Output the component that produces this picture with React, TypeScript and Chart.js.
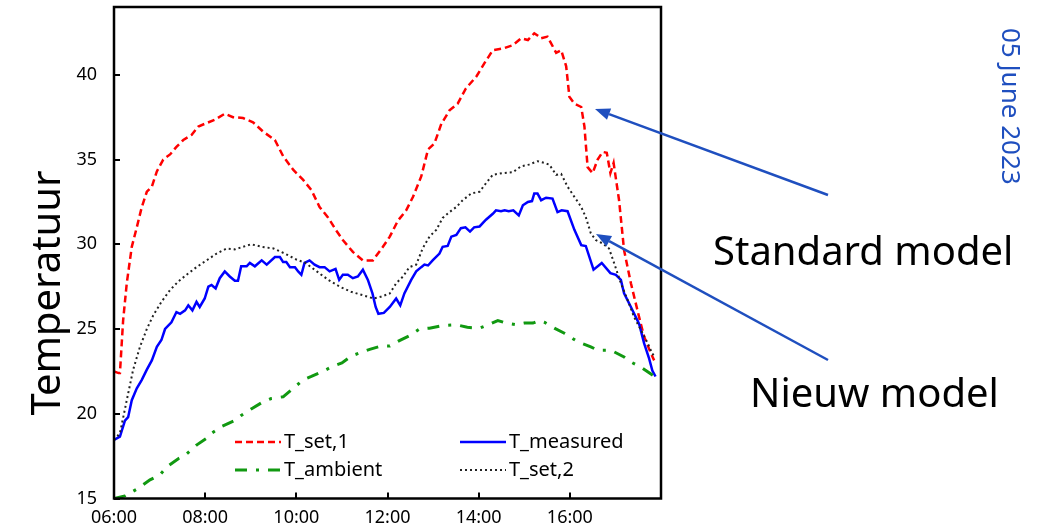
import React, { useEffect, useRef } from 'react';
import { Chart, registerables } from 'chart.js';

Chart.register(...registerables);

const FONT = '"Noto Sans", "DejaVu Sans", sans-serif';

// ---- data (hours of day, temperature) ----
const hoursSet1 = [6.0, 6.1, 6.13, 6.2, 6.28, 6.39, 6.5, 6.61, 6.72, 6.83, 6.94, 7.08, 7.23, 7.37, 7.52, 7.7, 7.85, 8.03, 8.21, 8.43, 8.61, 8.83, 9.05, 9.27, 9.53, 9.71, 9.93, 10.15, 10.33, 10.51, 10.69, 10.88, 11.02, 11.24, 11.46, 11.68, 11.9, 12.05, 12.23, 12.41, 12.56, 12.74, 12.89, 13.03, 13.18, 13.36, 13.54, 13.72, 13.95, 14.13, 14.31, 14.53, 14.75, 14.93, 15.08, 15.22, 15.3, 15.37, 15.51, 15.7, 15.81, 15.92, 15.99, 16.1, 16.25, 16.32, 16.39, 16.5, 16.61, 16.72, 16.81, 16.89, 16.96, 17.08, 17.19, 17.34, 17.52, 17.63, 17.78, 17.85];
const valuesSet1 = [22.5, 22.4, 22.4, 25.5, 27.7, 29.85, 31.0, 32.2, 33.1, 33.4, 34.3, 35.0, 35.3, 35.75, 36.15, 36.45, 36.95, 37.15, 37.35, 37.7, 37.5, 37.45, 37.2, 36.65, 36.15, 35.2, 34.4, 33.8, 33.2, 32.2, 31.6, 30.8, 30.25, 29.55, 29.05, 29.05, 29.85, 30.45, 31.4, 32.0, 32.8, 34.0, 35.6, 35.95, 37.1, 37.9, 38.3, 39.2, 39.9, 40.7, 41.45, 41.55, 41.75, 42.15, 42.05, 42.45, 42.3, 42.15, 42.25, 41.3, 41.45, 40.5, 38.7, 38.3, 38.1, 36.95, 34.55, 34.2, 35.0, 35.45, 35.4, 34.2, 34.8, 32.6, 29.65, 27.7, 25.7, 24.55, 23.55, 23.15];

const hoursMeasured = [6.0, 6.13, 6.24, 6.31, 6.39, 6.5, 6.61, 6.72, 6.83, 6.94, 7.04, 7.12, 7.26, 7.37, 7.45, 7.56, 7.63, 7.72, 7.81, 7.88, 7.99, 8.07, 8.14, 8.23, 8.32, 8.43, 8.54, 8.65, 8.72, 8.79, 8.91, 8.98, 9.09, 9.24, 9.35, 9.53, 9.64, 9.71, 9.78, 9.86, 9.97, 10.04, 10.11, 10.18, 10.29, 10.4, 10.51, 10.62, 10.73, 10.86, 10.94, 11.02, 11.13, 11.24, 11.35, 11.46, 11.57, 11.67, 11.74, 11.8, 11.92, 12.05, 12.19, 12.28, 12.37, 12.52, 12.63, 12.74, 12.81, 12.89, 12.99, 13.14, 13.21, 13.32, 13.4, 13.51, 13.61, 13.71, 13.81, 13.9, 14.02, 14.16, 14.31, 14.38, 14.49, 14.57, 14.66, 14.76, 14.88, 14.97, 15.08, 15.17, 15.22, 15.29, 15.37, 15.48, 15.62, 15.73, 15.82, 15.95, 16.1, 16.25, 16.35, 16.52, 16.7, 16.89, 17.01, 17.12, 17.19, 17.34, 17.52, 17.63, 17.74, 17.81, 17.88];
const valuesMeasured = [18.45, 18.65, 19.6, 19.8, 20.8, 21.5, 22.0, 22.6, 23.15, 23.95, 24.35, 25.0, 25.4, 26.0, 25.9, 26.1, 26.4, 26.1, 26.6, 26.3, 26.8, 27.5, 27.6, 27.4, 28.0, 28.4, 28.1, 27.85, 27.85, 28.7, 28.7, 28.9, 28.7, 29.05, 28.8, 29.25, 29.25, 28.95, 28.95, 28.65, 28.65, 28.4, 28.2, 28.9, 29.05, 28.8, 28.65, 28.65, 28.4, 28.55, 27.9, 28.2, 28.2, 28.0, 28.1, 28.5, 27.9, 27.1, 26.3, 25.9, 25.95, 26.3, 26.8, 26.4, 27.1, 27.9, 28.4, 28.65, 28.8, 28.75, 29.05, 29.45, 29.85, 29.9, 30.45, 30.55, 30.95, 31.0, 30.75, 31.0, 31.05, 31.45, 31.8, 32.0, 31.95, 32.0, 31.95, 32.0, 31.7, 32.3, 32.5, 32.55, 33.0, 33.0, 32.6, 32.75, 32.7, 31.9, 32.0, 31.95, 30.85, 29.95, 29.9, 28.5, 28.9, 28.3, 28.2, 27.9, 27.1, 26.3, 25.3, 24.15, 23.25, 22.55, 22.2];

const hoursAmbient = [6.0, 6.24, 6.53, 6.79, 7.01, 7.15, 7.41, 7.56, 7.81, 8.03, 8.14, 8.36, 8.65, 8.79, 9.02, 9.27, 9.45, 9.71, 9.93, 10.15, 10.33, 10.58, 10.8, 11.0, 11.2, 11.4, 11.61, 11.86, 12.05, 12.25, 12.48, 12.7, 12.92, 13.2, 13.51, 13.75, 14.02, 14.25, 14.42, 14.6, 14.82, 15.0, 15.19, 15.33, 15.44, 15.66, 15.88, 16.17, 16.46, 16.61, 16.9, 17.19, 17.34, 17.56, 17.86, 17.96];
const valuesAmbient = [15.0, 15.15, 15.6, 16.1, 16.4, 16.85, 17.35, 17.55, 18.15, 18.55, 18.85, 19.25, 19.6, 19.9, 20.3, 20.7, 20.9, 21.0, 21.5, 22.0, 22.2, 22.5, 22.8, 23.0, 23.4, 23.6, 23.8, 24.0, 24.0, 24.3, 24.6, 25.0, 25.05, 25.2, 25.25, 25.1, 25.05, 25.3, 25.5, 25.35, 25.25, 25.35, 25.35, 25.5, 25.4, 25.05, 24.75, 24.25, 23.95, 23.75, 23.75, 23.35, 23.05, 22.75, 22.2, 22.1];

const hoursSet2 = [6.0, 6.13, 6.28, 6.42, 6.57, 6.72, 6.86, 7.04, 7.23, 7.41, 7.59, 7.81, 8.03, 8.25, 8.47, 8.65, 8.83, 9.01, 9.25, 9.5, 9.75, 10.0, 10.2, 10.45, 10.7, 10.95, 11.2, 11.45, 11.7, 11.85, 12.05, 12.19, 12.34, 12.48, 12.63, 12.77, 12.92, 13.07, 13.21, 13.36, 13.51, 13.65, 13.84, 14.02, 14.16, 14.31, 14.53, 14.75, 14.93, 15.1, 15.29, 15.44, 15.55, 15.7, 15.81, 15.95, 16.1, 16.25, 16.35, 16.46, 16.57, 16.72, 16.86, 16.97, 17.12, 17.27, 17.41, 17.56, 17.71, 17.81, 17.87];
const valuesSet2 = [18.45, 18.85, 20.8, 22.6, 23.95, 25.0, 25.8, 26.6, 27.3, 27.8, 28.2, 28.65, 29.05, 29.45, 29.75, 29.7, 29.85, 30.0, 29.85, 29.75, 29.45, 29.1, 28.9, 28.4, 27.9, 27.5, 27.2, 27.0, 26.8, 26.9, 27.1, 27.7, 28.1, 28.65, 28.8, 29.75, 30.45, 30.85, 31.55, 31.9, 32.2, 32.6, 33.0, 33.1, 33.6, 34.1, 34.2, 34.25, 34.6, 34.7, 34.9, 34.8, 34.7, 34.1, 34.15, 33.4, 32.8, 32.2, 31.6, 30.65, 30.25, 30.05, 29.75, 28.9, 27.7, 26.7, 25.7, 24.95, 24.15, 23.55, 23.35];

const seriesNames = ['T_set,1', 'T_measured', 'T_ambient', 'T_set,2'];
const xTickHours = [6, 8, 10, 12, 14, 16];
const yTickValues = [15, 20, 25, 30, 35, 40];
const axisTitle = 'Temperatuur';
const dateLabel = '05 June 2023';
const annotationLabels = ['Standard model', 'Nieuw model'];

const STYLES = [
  { color: '#ff0000', width: 2.5, dash: [7, 4] },
  { color: '#0000ff', width: 2.5, dash: [] as number[] },
  { color: '#119911', width: 3, dash: [12, 9, 3, 9] },
  { color: '#222222', width: 2, dash: [2, 3] },
];
const ARROW_COLOR = '#1f4fbf';

function pts(hs: number[], vs: number[]) {
  return hs.map((h, i) => ({ x: h, y: vs[i] }));
}

function arrow(ctx: CanvasRenderingContext2D, x1: number, y1: number, x2: number, y2: number) {
  const ang = Math.atan2(y2 - y1, x2 - x1);
  const len = 15;
  const half = 6;
  const bx = x2 - len * Math.cos(ang);
  const by = y2 - len * Math.sin(ang);
  ctx.strokeStyle = ARROW_COLOR;
  ctx.fillStyle = ARROW_COLOR;
  ctx.lineWidth = 2.5;
  ctx.setLineDash([]);
  ctx.beginPath();
  ctx.moveTo(x1, y1);
  ctx.lineTo(bx, by);
  ctx.stroke();
  ctx.beginPath();
  ctx.moveTo(x2, y2);
  ctx.lineTo(bx + half * Math.sin(ang), by - half * Math.cos(ang));
  ctx.lineTo(bx - half * Math.sin(ang), by + half * Math.cos(ang));
  ctx.closePath();
  ctx.fill();
}

const overlayPlugin = {
  id: 'overlay',
  afterDatasetsDraw(chart: any) {
    const { ctx, chartArea: a, scales } = chart;
    ctx.save();
    ctx.setLineDash([]);
    // inner tick marks
    ctx.strokeStyle = '#000';
    ctx.lineWidth = 2;
    yTickValues.forEach((v) => {
      const y = Math.round(scales.y.getPixelForValue(v));
      ctx.beginPath();
      ctx.moveTo(a.left, y);
      ctx.lineTo(a.left + 6, y);
      ctx.stroke();
    });
    xTickHours.forEach((h) => {
      const x = Math.round(scales.x.getPixelForValue(h));
      ctx.beginPath();
      ctx.moveTo(x, a.bottom);
      ctx.lineTo(x, a.bottom - 6);
      ctx.stroke();
    });
    // frame
    ctx.lineWidth = 2.5;
    ctx.strokeRect(a.left, a.top, a.right - a.left, a.bottom - a.top);

    // legend
    const entries = [
      { i: 0, x: 235, y: 442 },
      { i: 1, x: 460, y: 442 },
      { i: 2, x: 235, y: 470 },
      { i: 3, x: 460, y: 470 },
    ];
    ctx.font = `20px ${FONT}`;
    ctx.textBaseline = 'middle';
    ctx.textAlign = 'left';
    entries.forEach((e) => {
      const s = STYLES[e.i];
      ctx.strokeStyle = s.color;
      ctx.lineWidth = s.width;
      ctx.setLineDash(s.dash);
      ctx.beginPath();
      ctx.moveTo(e.x, e.y);
      ctx.lineTo(e.x + 46, e.y);
      ctx.stroke();
      ctx.setLineDash([]);
      ctx.fillStyle = '#000';
      ctx.fillText(seriesNames[e.i], e.x + 49, e.y);
    });
    ctx.restore();
  },
  afterDraw(chart: any) {
    const { ctx } = chart;
    ctx.save();
    // y axis title
    ctx.fillStyle = '#000';
    ctx.font = `40px ${FONT}`;
    ctx.textAlign = 'center';
    ctx.textBaseline = 'alphabetic';
    ctx.translate(60, 293);
    ctx.rotate(-Math.PI / 2);
    ctx.fillText(axisTitle, 0, 0);
    ctx.restore();

    ctx.save();
    ctx.fillStyle = ARROW_COLOR;
    ctx.font = `26px ${FONT}`;
    ctx.textAlign = 'left';
    ctx.textBaseline = 'alphabetic';
    ctx.translate(1002, 28);
    ctx.rotate(Math.PI / 2);
    ctx.fillText(dateLabel, 0, 0);
    ctx.restore();

    ctx.save();
    ctx.fillStyle = '#000';
    ctx.font = `40px ${FONT}`;
    ctx.textAlign = 'left';
    ctx.textBaseline = 'alphabetic';
    ctx.fillText(annotationLabels[0], 713, 265);
    ctx.fillText(annotationLabels[1], 750, 407);
    arrow(ctx, 828, 195, 595, 109);
    arrow(ctx, 828, 360, 596, 234);
    ctx.restore();
  },
};

export default function App() {
  const canvasRef = useRef<HTMLCanvasElement | null>(null);

  useEffect(() => {
    const canvas = canvasRef.current;
    if (!canvas) return;
    const series = [
      pts(hoursSet1, valuesSet1),
      pts(hoursMeasured, valuesMeasured),
      pts(hoursAmbient, valuesAmbient),
      pts(hoursSet2, valuesSet2),
    ];
    const order = [2, 3, 1, 0];
    const chart = new Chart(canvas, {
      type: 'line',
      data: {
        datasets: order.map((i) => ({
          label: seriesNames[i],
          data: series[i],
          borderColor: STYLES[i].color,
          borderWidth: STYLES[i].width,
          borderDash: STYLES[i].dash,
          pointRadius: 0,
          tension: 0,
          fill: false,
        })),
      },
      options: {
        responsive: false,
        animation: false,
        devicePixelRatio: 1,
        layout: { padding: { left: 0, top: 7, right: 377, bottom: 0 } },
        plugins: { legend: { display: false }, tooltip: { enabled: false } },
        scales: {
          x: {
            type: 'linear',
            min: 6,
            max: 18,
            grid: { display: false, drawTicks: false },
            border: { display: false },
            afterBuildTicks: (scale: any) => {
              scale.ticks = xTickHours.map((v) => ({ value: v }));
            },
            afterFit: (scale: any) => {
              scale.height = 33.5;
              scale.paddingLeft = 0;
              scale.paddingRight = 0;
            },
            ticks: {
              autoSkip: false,
              maxRotation: 0,
              padding: 9,
              color: '#000',
              font: { family: FONT, size: 18 },
              callback: (v: any) => `${String(v).padStart(2, '0')}:00`,
            },
          },
          y: {
            type: 'linear',
            min: 15,
            max: 44,
            grid: { display: false, drawTicks: false },
            border: { display: false },
            afterBuildTicks: (scale: any) => {
              scale.ticks = yTickValues.map((v) => ({ value: v }));
            },
            afterFit: (scale: any) => {
              scale.width = 114;
              scale.paddingTop = 0;
              scale.paddingBottom = 0;
            },
            ticks: {
              padding: 17,
              color: '#000',
              font: { family: FONT, size: 18 },
            },
          },
        },
      },
      plugins: [overlayPlugin],
    } as any);
    return () => chart.destroy();
  }, []);

  return (
    <div style={{ position: 'fixed', left: 0, top: 0, width: 1038, height: 532, background: '#fff' }}>
      <canvas ref={canvasRef} width={1038} height={532} style={{ width: 1038, height: 532, display: 'block' }} />
    </div>
  );
}
